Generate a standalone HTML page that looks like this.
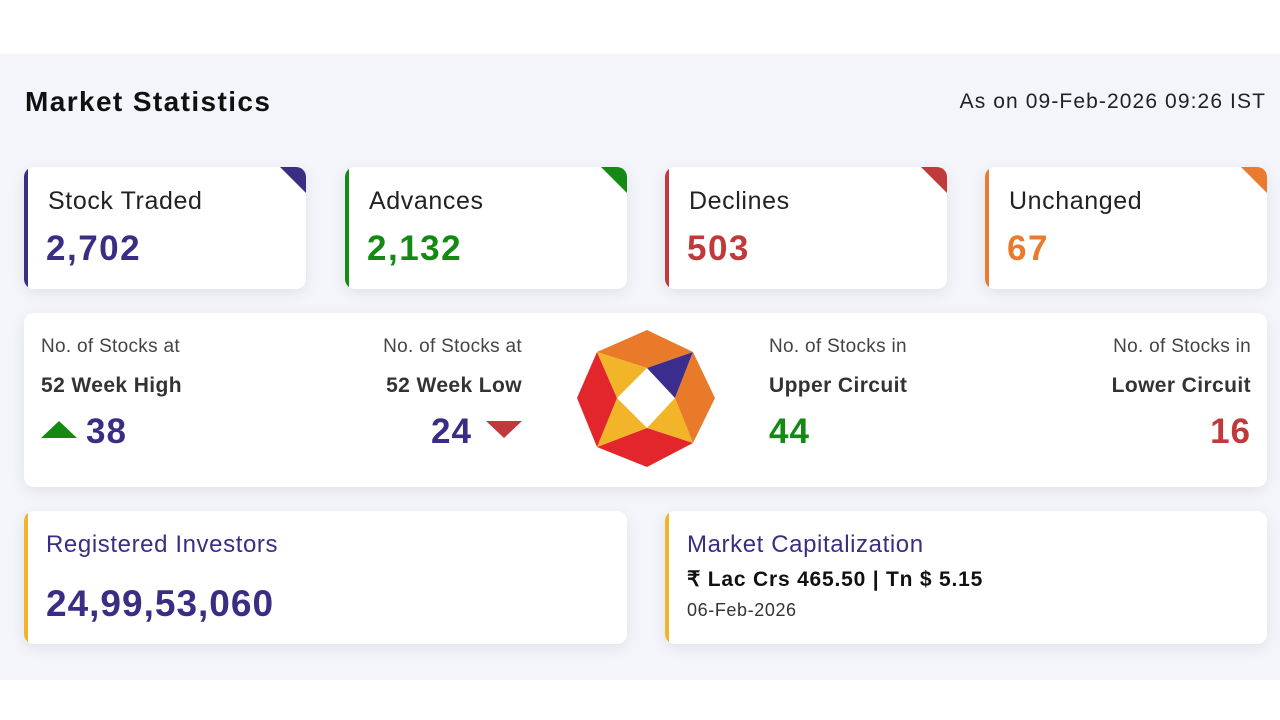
<!DOCTYPE html>
<html><head><style>
body{margin:0;width:1280px;height:720px;background:#fff;font-family:"Liberation Sans",sans-serif;position:relative;overflow:hidden}
.panel{position:absolute;left:0;top:54px;width:1280px;height:626px;background:#f3f5fb}
.card{position:absolute;background:#fff;border-radius:10px;box-shadow:0 4px 14px rgba(0,0,0,0.08);overflow:hidden}
.bar{position:absolute;left:0;top:0;bottom:0;width:4px}
.tri{position:absolute;right:0;top:0;width:0;height:0;border-top:26px solid;border-left:26px solid transparent}
.lbl{position:absolute;left:24px;top:20px;font-size:25px;color:#222;letter-spacing:0.6px}
.val{position:absolute;left:22px;top:62px;font-size:35px;font-weight:bold;letter-spacing:1.5px}
.s{position:absolute;font-size:19px;color:#444;letter-spacing:0.3px}
.b{position:absolute;font-size:21px;font-weight:bold;color:#333;letter-spacing:0.4px}
.n{position:absolute;font-size:35px;font-weight:bold;letter-spacing:1px}
</style></head><body>
<div class="panel"></div>
<div style="position:absolute;left:25px;top:86px;font-size:28px;font-weight:bold;color:#111;letter-spacing:1.4px">Market Statistics</div>
<div style="position:absolute;right:14px;top:90px;font-size:21px;color:#222;letter-spacing:1.1px">As on 09-Feb-2026 09:26 IST</div>

<div class="card" style="left:24px;top:167px;width:282px;height:122px"><div class="bar" style="background:#3a2d84"></div><div class="tri" style="border-top-color:#3a2d84"></div><div class="lbl">Stock Traded</div><div class="val" style="color:#3a2d84">2,702</div></div>
<div class="card" style="left:345px;top:167px;width:282px;height:122px"><div class="bar" style="background:#148a14"></div><div class="tri" style="border-top-color:#148a14"></div><div class="lbl">Advances</div><div class="val" style="color:#148a14">2,132</div></div>
<div class="card" style="left:665px;top:167px;width:282px;height:122px"><div class="bar" style="background:#c0393b"></div><div class="tri" style="border-top-color:#c0393b"></div><div class="lbl">Declines</div><div class="val" style="color:#c0393b">503</div></div>
<div class="card" style="left:985px;top:167px;width:282px;height:122px"><div class="bar" style="background:#ea7a2e"></div><div class="tri" style="border-top-color:#ea7a2e"></div><div class="lbl">Unchanged</div><div class="val" style="color:#ea7a2e">67</div></div>

<div class="card" style="left:24px;top:313px;width:1243px;height:174px"></div>
<div class="s" style="left:41px;top:336px">No. of Stocks at</div>
<div class="b" style="left:41px;top:374px">52 Week High</div>
<div style="position:absolute;left:41px;top:421px;width:0;height:0;border-left:18px solid transparent;border-right:18px solid transparent;border-bottom:17px solid #148a14"></div>
<div class="n" style="left:86px;top:412px;color:#3a2d84">38</div>
<div class="s" style="right:758px;top:336px">No. of Stocks at</div>
<div class="b" style="right:758px;top:374px">52 Week Low</div>
<div class="n" style="left:431px;top:412px;color:#3a2d84">24</div>
<div style="position:absolute;left:486px;top:421px;width:0;height:0;border-left:18px solid transparent;border-right:18px solid transparent;border-top:17px solid #c0393b"></div>
<div class="s" style="left:769px;top:336px">No. of Stocks in</div>
<div class="b" style="left:769px;top:374px">Upper Circuit</div>
<div class="n" style="left:769px;top:412px;color:#148a14">44</div>
<div class="s" style="right:29px;top:336px">No. of Stocks in</div>
<div class="b" style="right:29px;top:374px">Lower Circuit</div>
<div class="n" style="right:29px;top:412px;color:#c0393b">16</div>
<svg style="position:absolute;left:0;top:0" width="1280" height="720">
<polygon points="597,352 647,330 693,352 647,368" fill="#e87a2a"/>
<polygon points="693,352 647,368 675,398" fill="#3a2d8e"/>
<polygon points="693,352 715,398 693,443 675,398" fill="#e87a2a"/>
<polygon points="693,443 675,398 647,428" fill="#f2b429"/>
<polygon points="693,443 647,467 597,447 647,428" fill="#e3262b"/>
<polygon points="597,447 647,428 617,398" fill="#f2b429"/>
<polygon points="597,447 577,398 597,352 617,398" fill="#e3262b"/>
<polygon points="597,352 617,398 647,368" fill="#f2b429"/>
</svg>

<div class="card" style="left:24px;top:511px;width:603px;height:133px"><div class="bar" style="background:#f0b429"></div>
<div style="position:absolute;left:22px;top:20px;font-size:24px;color:#3a2d84;letter-spacing:0.6px">Registered Investors</div>
<div style="position:absolute;left:22px;top:72px;font-size:37px;font-weight:bold;color:#3a2d84;letter-spacing:1px">24,99,53,060</div></div>
<div class="card" style="left:665px;top:511px;width:602px;height:133px"><div class="bar" style="background:#f0b429"></div>
<div style="position:absolute;left:22px;top:20px;font-size:24px;color:#3a2d84;letter-spacing:0.6px">Market Capitalization</div>
<div style="position:absolute;left:22px;top:56px;font-size:21px;font-weight:bold;color:#111;letter-spacing:0.8px">₹ Lac Crs 465.50 | Tn $ 5.15</div>
<div style="position:absolute;left:22px;top:89px;font-size:18px;color:#333;letter-spacing:0.6px">06-Feb-2026</div></div>
</body></html>
